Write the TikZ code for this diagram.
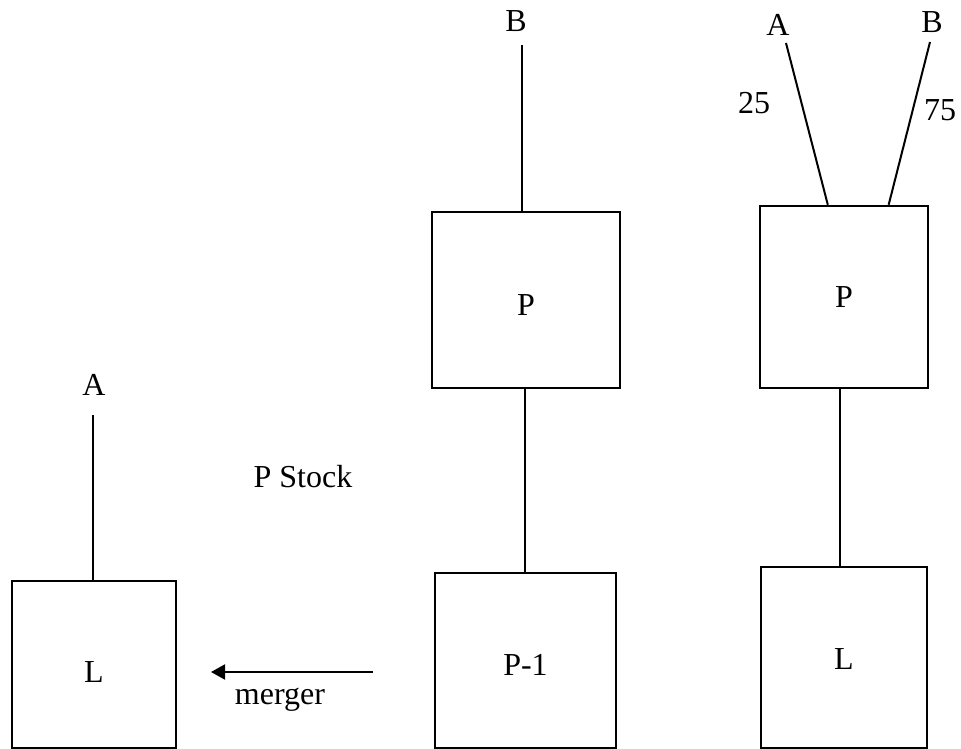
\documentclass[tikz,border=0pt]{standalone}
\usepackage{fontspec}
\setmainfont{Liberation Serif}
\usetikzlibrary{arrows.meta,calc}
\begin{document}
\begin{tikzpicture}[x=1pt,y=-1pt,
  every node/.style={font=\fontsize{32}{38}\selectfont, inner sep=0pt},
  unit/.style={draw, line width=2.5pt, rectangle},
  wire/.style={line width=2pt},
  flow/.style={line width=2pt, -{Triangle[length=14pt,width=15pt]}}]
\useasboundingbox (0,0) rectangle (961,749);

% boxes
\node[unit, minimum width=164pt, minimum height=167pt,
      label={[yshift=-8pt]center:L}] (L1) at (94,664.5) {};
\node[unit, minimum width=188pt, minimum height=176pt,
      label={[yshift=-5pt]center:P}] (P1) at (526,300) {};
\node[unit, minimum width=181pt, minimum height=175pt,
      label={[yshift=-4pt]center:P-1}] (P2) at (525.5,660.5) {};
\node[unit, minimum width=168pt, minimum height=182pt,
      label={center:P}] (P3) at (844,297) {};
\node[unit, minimum width=166pt, minimum height=181pt,
      label={[yshift=-2pt]center:L}] (L3) at (844,657.5) {};

% free labels
\node (tA1) at (94,385) {A};
\node (tB1) at (516,21) {B};
\node (tA3) at (778,25) {A};
\node (tB3) at (932,22) {B};
\node (n25) at (754,103) {25};
\node (n75) at (940,110) {75};
\node (stock) at (303,477) {P Stock};
\node (merge) at (280,700) {merger};

% free ends of the connectors
\coordinate (eA1) at (93,415);
\coordinate (eB1) at (522,45);
\coordinate (eA3) at (786,43);
\coordinate (eB3) at (930,42);
\coordinate (mFrom) at (373,672);
\coordinate (mTo) at (211,672);

% connectors
\draw[wire] (eA1) -- (eA1 |- L1.north);
\draw[wire] (eB1) -- (eB1 |- P1.north);
\draw[wire] ([xshift=-1pt]P1.south) -- ([xshift=-1pt]P1.south |- P2.north);
\draw[wire] (eA3) -- ($(P3.north west)!0.405!(P3.north east)$);
\draw[wire] (eB3) -- ($(P3.north west)!0.762!(P3.north east)$);
\draw[wire] ([xshift=-4pt]P3.south) -- ([xshift=-4pt]P3.south |- L3.north);
\draw[flow] (mFrom) -- (mTo);
\end{tikzpicture}
\end{document}
